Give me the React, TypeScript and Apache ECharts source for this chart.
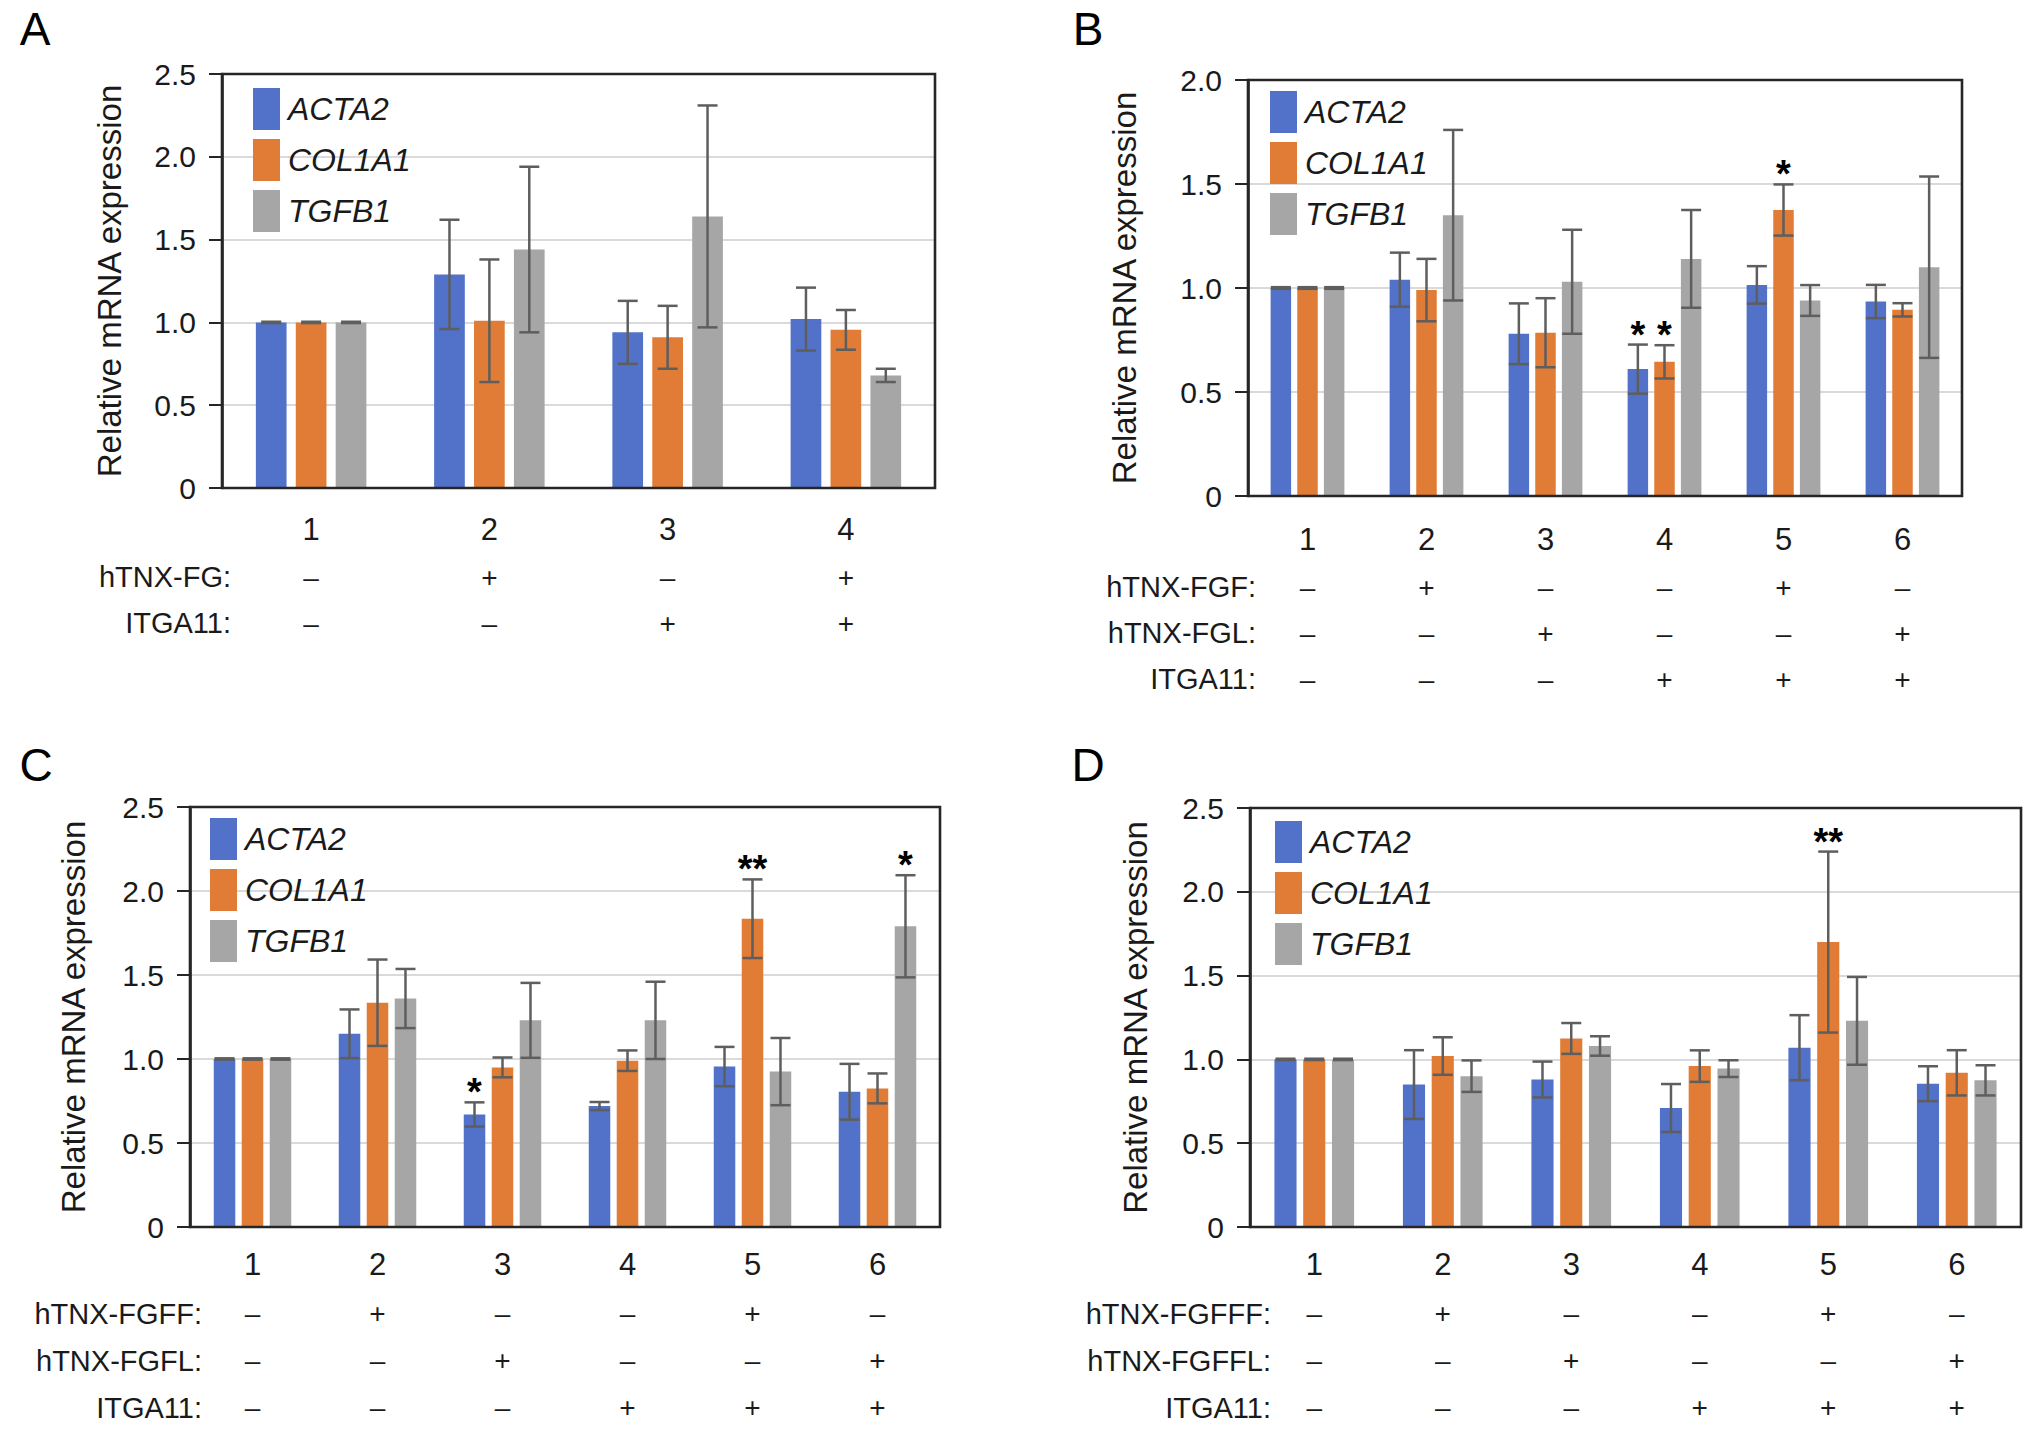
import React, { useEffect, useRef } from 'react';
import * as echarts from 'echarts';

const FONT = '"Liberation Sans", Arial, Helvetica, sans-serif';

const genes = ['ACTA2', 'COL1A1', 'TGFB1'];
const geneColors = ['#5271C9', '#E07C35', '#A6A6A6'];

const categories4 = ['1', '2', '3', '4'];
const categories6 = ['1', '2', '3', '4', '5', '6'];
const yLabelTitle = 'Relative mRNA expression';

// ---- Panel A ----
const aACTA2 = [1.0, 1.29, 0.94, 1.02];
const aACTA2Err = [0.004, 0.33, 0.19, 0.19];
const aCOL1A1 = [1.0, 1.01, 0.91, 0.955];
const aCOL1A1Err = [0.004, 0.37, 0.19, 0.12];
const aTGFB1 = [1.0, 1.44, 1.64, 0.68];
const aTGFB1Err = [0.004, 0.5, 0.67, 0.04];
const aSigACTA2 = ['', '', '', ''];
const aSigCOL1A1 = ['', '', '', ''];
const aSigTGFB1 = ['', '', '', ''];
const aRowLabels = ['hTNX-FG:', 'ITGA11:'];
const aRow1 = ['–', '+', '–', '+'];
const aRow2 = ['–', '–', '+', '+'];

// ---- Panel B ----
const bACTA2 = [1.0, 1.04, 0.78, 0.61, 1.015, 0.935];
const bACTA2Err = [0.004, 0.13, 0.146, 0.118, 0.09, 0.08];
const bCOL1A1 = [1.0, 0.99, 0.785, 0.645, 1.375, 0.895];
const bCOL1A1Err = [0.004, 0.15, 0.166, 0.08, 0.123, 0.032];
const bTGFB1 = [1.0, 1.35, 1.03, 1.14, 0.94, 1.1];
const bTGFB1Err = [0.004, 0.41, 0.25, 0.235, 0.074, 0.436];
const bSigACTA2 = ['', '', '', '*', '', ''];
const bSigCOL1A1 = ['', '', '', '*', '*', ''];
const bSigTGFB1 = ['', '', '', '', '', ''];
const bRowLabels = ['hTNX-FGF:', 'hTNX-FGL:', 'ITGA11:'];
const bRow1 = ['–', '+', '–', '–', '+', '–'];
const bRow2 = ['–', '–', '+', '–', '–', '+'];
const bRow3 = ['–', '–', '–', '+', '+', '+'];

// ---- Panel C ----
const cACTA2 = [1.0, 1.15, 0.67, 0.72, 0.955, 0.805];
const cACTA2Err = [0.004, 0.145, 0.072, 0.024, 0.117, 0.166];
const cCOL1A1 = [1.0, 1.335, 0.95, 0.99, 1.835, 0.825];
const cCOL1A1Err = [0.004, 0.257, 0.059, 0.061, 0.234, 0.089];
const cTGFB1 = [1.0, 1.36, 1.23, 1.23, 0.925, 1.79];
const cTGFB1Err = [0.004, 0.176, 0.223, 0.23, 0.2, 0.304];
const cSigACTA2 = ['', '', '*', '', '', ''];
const cSigCOL1A1 = ['', '', '', '', '**', ''];
const cSigTGFB1 = ['', '', '', '', '', '*'];
const cRowLabels = ['hTNX-FGFF:', 'hTNX-FGFL:', 'ITGA11:'];
const cRow1 = ['–', '+', '–', '–', '+', '–'];
const cRow2 = ['–', '–', '+', '–', '–', '+'];
const cRow3 = ['–', '–', '–', '+', '+', '+'];

// ---- Panel D ----
const dACTA2 = [1.0, 0.85, 0.88, 0.71, 1.07, 0.855];
const dACTA2Err = [0.004, 0.205, 0.107, 0.143, 0.194, 0.104];
const dCOL1A1 = [1.0, 1.02, 1.125, 0.96, 1.7, 0.92];
const dCOL1A1Err = [0.004, 0.112, 0.092, 0.094, 0.54, 0.135];
const dTGFB1 = [1.0, 0.9, 1.08, 0.945, 1.23, 0.875];
const dTGFB1Err = [0.004, 0.094, 0.058, 0.05, 0.262, 0.09];
const dSigACTA2 = ['', '', '', '', '', ''];
const dSigCOL1A1 = ['', '', '', '', '**', ''];
const dSigTGFB1 = ['', '', '', '', '', ''];
const dRowLabels = ['hTNX-FGFFF:', 'hTNX-FGFFL:', 'ITGA11:'];
const dRow1 = ['–', '+', '–', '–', '+', '–'];
const dRow2 = ['–', '–', '+', '–', '–', '+'];
const dRow3 = ['–', '–', '–', '+', '+', '+'];

const panelData = [
  { letter: 'A', categories: categories4, yMax: 2.5,
    values: [aACTA2, aCOL1A1, aTGFB1], errors: [aACTA2Err, aCOL1A1Err, aTGFB1Err],
    sigs: [aSigACTA2, aSigCOL1A1, aSigTGFB1], rowLabels: aRowLabels, rows: [aRow1, aRow2] },
  { letter: 'B', categories: categories6, yMax: 2.0,
    values: [bACTA2, bCOL1A1, bTGFB1], errors: [bACTA2Err, bCOL1A1Err, bTGFB1Err],
    sigs: [bSigACTA2, bSigCOL1A1, bSigTGFB1], rowLabels: bRowLabels, rows: [bRow1, bRow2, bRow3] },
  { letter: 'C', categories: categories6, yMax: 2.5,
    values: [cACTA2, cCOL1A1, cTGFB1], errors: [cACTA2Err, cCOL1A1Err, cTGFB1Err],
    sigs: [cSigACTA2, cSigCOL1A1, cSigTGFB1], rowLabels: cRowLabels, rows: [cRow1, cRow2, cRow3] },
  { letter: 'D', categories: categories6, yMax: 2.5,
    values: [dACTA2, dCOL1A1, dTGFB1], errors: [dACTA2Err, dCOL1A1Err, dTGFB1Err],
    sigs: [dSigACTA2, dSigCOL1A1, dSigTGFB1], rowLabels: dRowLabels, rows: [dRow1, dRow2, dRow3] },
];

// layout (pixels)
const layouts = [
  { l: 222, r: 935, t: 74, b: 488, nameGap: 96, legendL: 253, legendT: 88, rowRight: 231,
    letterX: 35, letterY: 29, margin: 16, numLH: 50, rowLH: 46 },
  { l: 1248, r: 1962, t: 80, b: 496, nameGap: 107, legendL: 1270, legendT: 91, rowRight: 1256,
    letterX: 1088, letterY: 29, margin: 18, numLH: 50, rowLH: 46 },
  { l: 190, r: 940, t: 807, b: 1227, nameGap: 100, legendL: 210, legendT: 818, rowRight: 202,
    letterX: 36, letterY: 765, margin: 11, numLH: 52, rowLH: 47 },
  { l: 1250, r: 2021, t: 808, b: 1227, nameGap: 98, legendL: 1275, legendT: 821, rowRight: 1271,
    letterX: 1088, letterY: 765, margin: 11, numLH: 52, rowLH: 47 },
];

const CAT_GAP = 0.38;
const BAR_GAP = 0.3;

function buildOption() {
  const grid: any[] = [];
  const xAxis: any[] = [];
  const yAxis: any[] = [];
  const legend: any[] = [];
  const series: any[] = [];
  const graphic: any[] = [];

  panelData.forEach((p, i) => {
    const L = layouts[i];
    grid.push({ left: L.l, top: L.t, width: L.r - L.l, height: L.b - L.t });
    const rows = p.rows;
    xAxis.push({
      type: 'category', gridIndex: i, data: p.categories,
      axisLine: { show: false }, axisTick: { show: false },
      axisLabel: {
        interval: 0, margin: L.margin,
        formatter: (v: string, idx: number) =>
          [`{n|${v}}`, ...rows.map((r) => `{s|${r[idx]}}`)].join('\n'),
        rich: {
          n: { fontSize: 31, lineHeight: L.numLH, color: '#1a1a1a', fontFamily: FONT },
          s: { fontSize: 28, lineHeight: L.rowLH, color: '#1a1a1a', fontFamily: FONT },
        },
      },
    });
    yAxis.push({
      type: 'value', gridIndex: i, min: 0, max: p.yMax, interval: 0.5,
      name: yLabelTitle, nameLocation: 'middle', nameGap: L.nameGap,
      nameTextStyle: { fontSize: 33, color: '#1a1a1a', fontFamily: FONT },
      axisLine: { show: true, lineStyle: { color: '#262626', width: 2.6 } },
      axisTick: { show: true, length: 13, lineStyle: { color: '#262626', width: 2 } },
      axisLabel: {
        margin: 26, fontSize: 30, color: '#1a1a1a', fontFamily: FONT,
        formatter: (v: number) => (v === 0 ? '0' : v.toFixed(1)),
      },
      splitLine: { show: true, lineStyle: { color: '#dadada', width: 2 } },
    });
    legend.push({
      data: genes, orient: 'vertical', left: L.legendL, top: L.legendT,
      itemWidth: 27, itemHeight: 42, itemGap: 9, icon: 'rect', padding: 0,
      selectedMode: false,
      textStyle: { fontSize: 32, fontStyle: 'italic', color: '#1a1a1a', fontFamily: FONT, padding: [0, 0, 0, 3] },
    });

    genes.forEach((g, gi) => {
      series.push({
        type: 'bar', name: g, xAxisIndex: i, yAxisIndex: i,
        data: p.values[gi],
        barGap: `${BAR_GAP * 100}%`, barCategoryGap: `${CAT_GAP * 100}%`,
        itemStyle: { color: geneColors[gi] },
        z: 2,
      });
    });
    genes.forEach((g, gi) => {
      const vals = p.values[gi];
      const errs = p.errors[gi];
      const sig = p.sigs[gi];
      series.push({
        type: 'custom', name: `err-${p.letter}-${g}`, xAxisIndex: i, yAxisIndex: i,
        data: vals.map((v, k) => [k, v, errs[k]]),
        z: 5,
        renderItem: (params: any, api: any) => {
          const k = api.value(0);
          const v = api.value(1);
          const e = api.value(2);
          const band = api.size([1, 0])[0];
          const w = (band * (1 - CAT_GAP)) / (3 + 2 * BAR_GAP);
          const c = api.coord([k, v]);
          const x = c[0] + (gi - 1) * w * (1 + BAR_GAP);
          const yTop = api.coord([k, v + e])[1];
          const yBot = api.coord([k, v - e])[1];
          const cap = 10;
          const ls = { stroke: '#5e5e5e', lineWidth: 2.5 };
          const children: any[] = [
            { type: 'line', shape: { x1: x, y1: yTop, x2: x, y2: yBot }, style: ls },
            { type: 'line', shape: { x1: x - cap, y1: yTop, x2: x + cap, y2: yTop }, style: ls },
            { type: 'line', shape: { x1: x - cap, y1: yBot, x2: x + cap, y2: yBot }, style: ls },
          ];
          const s = sig[params.dataIndex];
          if (s) {
            children.push({
              type: 'text',
              style: {
                text: s, x, y: yTop - 10, align: 'center', verticalAlign: 'middle',
                fontSize: 38, fontWeight: 'bold', fill: '#000', fontFamily: FONT,
              },
            });
          }
          return { type: 'group', children };
        },
      });
    });

    // frame
    graphic.push({
      type: 'rect', z: 100, silent: true,
      shape: { x: L.l, y: L.t, width: L.r - L.l, height: L.b - L.t },
      style: { fill: 'transparent', stroke: '#262626', lineWidth: 2.6 },
    });
    // panel letter
    graphic.push({
      type: 'text', x: L.letterX, y: L.letterY,
      style: { text: p.letter, fontSize: 46, fill: '#000', fontFamily: FONT, align: 'center', verticalAlign: 'middle' },
    });
    // row labels
    p.rowLabels.forEach((lab, r) => {
      graphic.push({
        type: 'text', x: L.rowRight, y: L.b + L.margin + L.numLH + L.rowLH / 2 + r * L.rowLH,
        style: { text: lab, fontSize: 29, fill: '#1a1a1a', fontFamily: FONT, align: 'right', verticalAlign: 'middle' },
      });
    });
  });

  return {
    animation: false,
    backgroundColor: '#ffffff',
    textStyle: { fontFamily: FONT },
    grid, xAxis, yAxis, legend, series, graphic,
  };
}

export default function App() {
  const ref = useRef<HTMLDivElement>(null);
  useEffect(() => {
    if (!ref.current) return;
    const chart = echarts.init(ref.current, undefined, { renderer: 'svg' });
    chart.setOption(buildOption() as any);
    return () => chart.dispose();
  }, []);
  return (
    <div
      ref={ref}
      style={{ position: 'fixed', left: 0, top: 0, width: 2032, height: 1430, background: '#fff' }}
    />
  );
}
